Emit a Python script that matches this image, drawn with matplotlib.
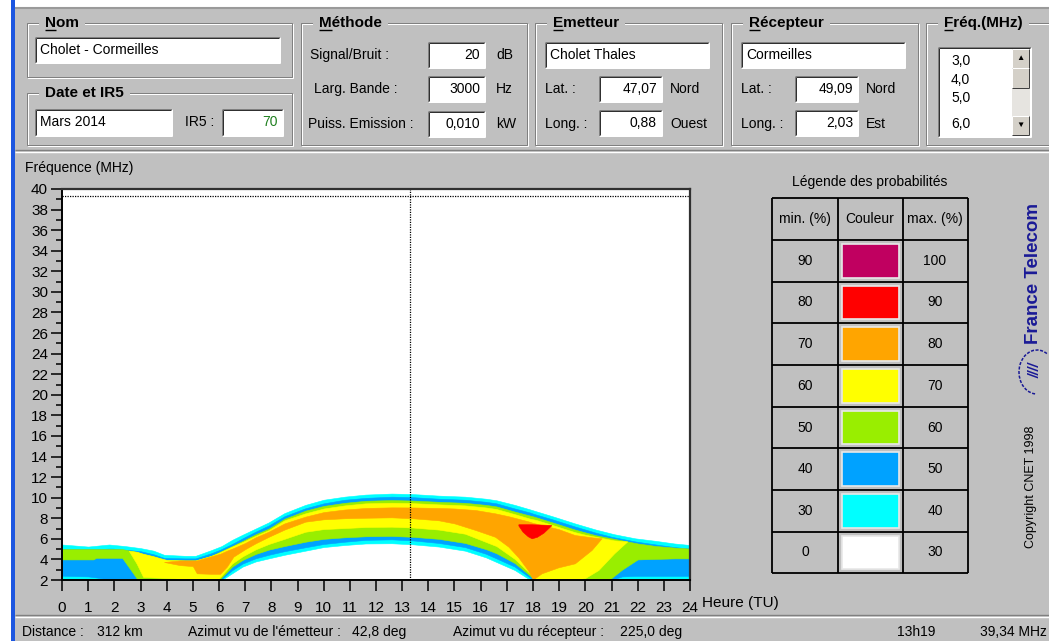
import matplotlib
matplotlib.use('Agg')
import matplotlib.pyplot as plt
from matplotlib.patches import Rectangle, Arc

plt.rcParams['font.family'] = ['Liberation Sans', 'DejaVu Sans']

# ---- data ----
hours = list(range(0, 25))
freq_ticks = list(range(2, 41, 2))

# area where probability >= level : time (h), lower / upper frequency (MHz)
t_p30 = [0, 1, 1.8, 2.4, 3.0, 3.5, 3.9, 4.7, 5.1, 5.7, 6.1, 6.5, 6.9, 7.4, 7.9, 8.5, 9.3, 10.0,
         10.8, 11.6, 12.6, 13.4, 14.4, 15.4, 16.2, 16.6, 17.3, 17.9, 18.8, 19.6, 20.4, 21.1, 21.9,
         22.7, 23.4, 24]
hi_p30 = [5.45, 5.25, 5.45, 5.3, 5.1, 4.85, 4.45, 4.35, 4.35, 4.9, 5.3, 5.9, 6.4, 7.0, 7.6, 8.5,
          9.3, 9.8, 10.1, 10.3, 10.4, 10.35, 10.2, 10.1, 9.9, 9.75, 9.3, 8.85, 8.15, 7.5, 6.9, 6.45,
          6.05, 5.8, 5.55, 5.4]
lo_p30 = [2, 2, 2, 2, 2, 2, 2, 2, 2, 2, 2, 2.65, 3.3, 3.8, 4.1, 4.45, 4.85, 5.2, 5.4, 5.55, 5.57,
          5.47, 5.25, 4.85, 4.2, 3.75, 2.97, 2.0, 2, 2, 2, 2, 2, 2, 2, 2]

t_p40 = [0, 1.0, 1.3, 1.8, 1.95, 2.4, 3.0, 3.5, 3.9, 4.7, 5.1, 5.7, 6.05, 6.5, 6.9, 7.4, 7.9, 8.5,
         9.3, 10.0, 10.8, 11.6, 12.6, 13.4, 14.4, 15.4, 16.2, 16.6, 17.3, 17.9, 18.0, 18.8, 19.6,
         20.4, 21.0, 21.4, 21.9, 22.7, 23.4, 24]
hi_p40 = [5.0, 5.0, 5.0, 5.05, 5.05, 4.95, 4.8, 4.5, 4.15, 4.1, 4.1, 4.6, 4.95, 5.5, 6.05, 6.7,
          7.3, 8.2, 8.97, 9.45, 9.8, 9.98, 10.1, 10.05, 9.9, 9.8, 9.6, 9.45, 8.95, 8.55, 8.45,
          7.85, 7.2, 6.6, 6.2, 6.0, 5.75, 5.45, 5.2, 5.05]
lo_p40 = [2.42, 2.35, 2.25, 2.05, 2.0, 2, 2, 2, 2, 2, 2, 2, 2.0, 2.95, 3.6, 4.11, 4.45, 4.8,
          5.18, 5.5, 5.72, 5.9, 5.95, 5.85, 5.6, 5.2, 4.55, 4.1, 3.3, 2.2, 2.0, 2, 2, 2, 2.0,
          2.35, 2.4, 2.4, 2.4, 2.4]

t_p50 = [0, 1.2, 1.3, 2.3, 2.9, 3.0, 3.5, 3.9, 4.7, 5.1, 5.7, 6.0, 6.5, 6.9, 7.4, 7.9, 8.5, 9.3,
         10.0, 10.8, 11.6, 12.6, 13.4, 14.4, 15.4, 16.2, 16.6, 17.3, 17.9, 18.05, 18.8, 19.6,
         20.4, 20.9, 21.4, 22.0, 22.7, 23.4, 24]
hi_p50 = [5.0, 5.0, 5.0, 5.0, 4.7, 4.6, 4.3, 3.95, 3.9, 3.9, 4.35, 4.7, 5.3, 5.8, 6.45, 7.0,
          7.95, 8.74, 9.2, 9.5, 9.7, 9.77, 9.72, 9.6, 9.5, 9.3, 9.15, 8.65, 8.25, 8.15, 7.55,
          6.9, 6.35, 6.1, 5.85, 5.55, 5.3, 5.15, 5.05]
lo_p50 = [4.0, 4.0, 4.15, 4.15, 2.0, 2, 2, 2, 2, 2, 2, 2.0, 3.3, 3.95, 4.53, 4.95, 5.3, 5.72,
          6.0, 6.15, 6.25, 6.28, 6.2, 6.0, 5.6, 5.0, 4.6, 3.65, 2.4, 2.0, 2, 2, 2, 2.0, 3.0, 4.0,
          4.05, 4.1, 4.1]

t_p60 = [2.55, 2.85, 3.1, 3.5, 4.0, 4.7, 5.0, 5.1, 5.7, 5.95, 6.5, 6.9, 7.4, 7.9, 8.5, 9.3, 10.0,
         10.8, 11.6, 12.6, 13.4, 14.4, 15.4, 16.2, 16.6, 17.3, 17.9, 18.1, 18.8, 19.6, 20.0,
         20.5, 21.1, 21.6]
hi_p60 = [4.85, 4.75, 4.55, 4.3, 3.95, 3.9, 3.9, 3.9, 4.35, 4.6, 5.25, 5.7, 6.3, 6.85, 7.8, 8.48,
          8.95, 9.25, 9.45, 9.51, 9.47, 9.35, 9.25, 9.05, 8.9, 8.4, 7.95, 7.85, 7.3, 6.65, 6.4,
          6.15, 5.85, 5.75]
lo_p60 = [4.85, 3.6, 2.3, 2.25, 2.2, 2.1, 2.0, 2.0, 2.0, 2.0, 3.6, 4.3, 4.98, 5.5, 6.0, 6.69,
          6.95, 7.05, 7.15, 7.18, 7.1, 6.9, 6.5, 5.7, 5.3, 4.05, 2.6, 2.0, 2.0, 2.0, 2.2, 2.97,
          4.59, 5.75]

t_p70 = [3.9, 4.5, 5.0, 5.15, 5.7, 6.04, 6.3, 6.55, 7.0, 7.4, 7.9, 8.5, 9.3, 10.0, 10.8, 11.6,
         12.6, 13.4, 14.4, 15.0, 15.8, 16.55, 17.06, 17.44, 17.82, 18.0, 18.33, 18.97, 19.6,
         20.24, 20.62]
hi_p70 = [3.75, 3.9, 3.9, 3.9, 4.3, 4.55, 4.85, 5.1, 5.6, 6.15, 6.7, 7.5, 8.16, 8.6, 8.85, 9.0,
          9.06, 9.05, 9.0, 8.95, 8.8, 8.48, 8.2, 7.95, 7.7, 7.55, 7.35, 6.95, 6.37, 6.15, 6.05]
lo_p70 = [3.75, 3.45, 3.35, 2.65, 2.6, 2.6, 3.3, 4.27, 5.0, 5.57, 6.2, 6.9, 7.67, 7.9, 8.0, 8.05,
          8.09, 8.0, 7.8, 7.5, 6.86, 6.2, 5.24, 4.2, 2.9, 2.05, 2.65, 3.23, 3.62, 4.92, 6.05]

t_p80 = [17.44, 17.6, 17.8, 17.95, 18.15, 18.4, 18.69]
hi_p80 = [7.42, 7.42, 7.42, 7.42, 7.4, 7.38, 7.35]
lo_p80 = [7.3, 6.7, 6.25, 6.05, 6.2, 6.6, 7.3]

prob_min = [90, 80, 70, 60, 50, 40, 30, 0]
prob_max = [100, 90, 80, 70, 60, 50, 40, 30]
prob_colors = ['#c00060', '#ff0000', '#ffa500', '#ffff00', '#99ee00', '#00a2ff', '#00ffff', '#ffffff']

cursor_hour = 13 + 19 / 60.0
cursor_freq = 39.34
freq_list = ['3,0', '4,0', '5,0', '6,0']

# ---- window ----
W, H = 1049, 641
GRAY = '#c0c0c0'
PX = 0.72  # one pixel in points
FS = 10

fig = plt.figure(figsize=(W / 100, H / 100), dpi=100, facecolor=GRAY)
bg = fig.add_axes([0, 0, 1, 1])
bg.set_xlim(0, W)
bg.set_ylim(H, 0)
bg.axis('off')
bg.set_facecolor(GRAY)
rend = fig.canvas.get_renderer()


def hline(x0, x1, y, c, lw=PX):
    bg.plot([x0, x1], [y, y], color=c, lw=lw, solid_capstyle='butt')


def vline(x, y0, y1, c, lw=PX):
    bg.plot([x, x], [y0, y1], color=c, lw=lw, solid_capstyle='butt')


def groupbox(x0, y0, x1, y1, title, underline=True):
    bg.add_patch(Rectangle((x0 + 1, y0 + 1), x1 - x0, y1 - y0, fill=False, ec='white', lw=PX))
    bg.add_patch(Rectangle((x0, y0), x1 - x0, y1 - y0, fill=False, ec='#808080', lw=PX))
    t = bg.text(x0 + 18, y0, title, fontsize=FS + 1, fontweight='bold', va='center', ha='left')
    bb = t.get_window_extent(rend)
    bg.add_patch(Rectangle((x0 + 12, y0 - 8), bb.width + 12, 16, fc=GRAY, ec='none', zorder=1.5))
    t.set_zorder(3)
    if underline:
        tmp = bg.text(0, 0, title[0], fontsize=FS + 1, fontweight='bold')
        w = tmp.get_window_extent(rend).width
        tmp.remove()
        hline(x0 + 18, x0 + 18 + w, y0 + 7, 'black', lw=1.0)


def sunken(x0, y0, x1, y1, fc='white'):
    bg.add_patch(Rectangle((x0, y0), x1 - x0, y1 - y0, fc=fc, ec='none'))
    hline(x0, x1, y0, '#808080')
    vline(x0, y0, y1, '#808080')
    hline(x0 + 1, x1 - 1, y0 + 1, '#303030')
    vline(x0 + 1, y0 + 1, y1 - 1, '#303030')
    hline(x0, x1, y1, 'white')
    vline(x1, y0, y1, 'white')


def textbox(x0, y0, x1, y1, text, align='left', color='black'):
    sunken(x0, y0, x1, y1)
    if align == 'left':
        bg.text(x0 + 5, (y0 + y1) / 2, text, fontsize=FS, va='center', ha='left', color=color)
    else:
        bg.text(x1 - 5, (y0 + y1) / 2, text, fontsize=FS, va='center', ha='right', color=color)


def label(x, y, text, **kw):
    bg.text(x, y, text, fontsize=FS, va='center', ha='left', **kw)


def raised(x0, y0, x1, y1):
    bg.add_patch(Rectangle((x0, y0), x1 - x0, y1 - y0, fc='#d4d0c8', ec='none'))
    hline(x0, x1, y0, 'white')
    vline(x0, y0, y1, 'white')
    hline(x0, x1, y1, '#404040')
    vline(x1, y0, y1, '#404040')


# left window edge and top
bg.add_patch(Rectangle((0, 0), 11, H, fc='white', ec='none'))
bg.add_patch(Rectangle((11, 0), 4, H, fc='#1c56e0', ec='none'))
bg.add_patch(Rectangle((15, 0), W, 7, fc='white', ec='none'))
hline(15, W, 7.5, '#9a9a9a', lw=1.5)

# Nom
groupbox(27, 23, 292, 77, 'Nom')
textbox(35, 37, 280, 63, 'Cholet - Cormeilles')
# Date et IR5
groupbox(27, 93, 292, 145, 'Date et IR5', underline=False)
textbox(35, 109, 172, 136, 'Mars 2014')
label(185, 122, 'IR5 :')
textbox(222, 109, 283, 136, '70', align='right', color='#208020')

# Methode
groupbox(301, 23, 527, 145, 'Méthode')
meth_rows = [('Signal/Bruit :', '20', 'dB', 310, 42),
             ('Larg. Bande :', '3000', 'Hz', 314, 76),
             ('Puiss. Emission :', '0,010', 'kW', 308, 111)]
for name, val, unit, lx, ty in meth_rows:
    label(lx, ty + 13, name)
    textbox(428, ty, 485, ty + 26, val, align='right')
    label(496, ty + 13, unit)

# Emetteur / Recepteur
for gx, title, name, lat, lat_dir, lon, lon_dir in [
        (535, 'Emetteur', 'Cholet Thales', '47,07', 'Nord', '0,88', 'Ouest'),
        (731, 'Récepteur', 'Cormeilles', '49,09', 'Nord', '2,03', 'Est')]:
    groupbox(gx, 23, gx + 187, 145, title)
    textbox(gx + 10, 42, gx + 174, 68, name)
    label(gx + 10, 89, 'Lat. :')
    textbox(gx + 64, 76, gx + 127, 102, lat, align='right')
    label(gx + 135, 89, lat_dir)
    label(gx + 10, 124, 'Long. :')
    textbox(gx + 64, 110, gx + 127, 136, lon, align='right')
    label(gx + 135, 124, lon_dir)

# Frequency list
groupbox(926, 23, 1065, 145, 'Fréq.(MHz)')
sunken(938, 47, 1031, 137)
for s, yy in zip(freq_list, [61, 80, 98, 124]):
    label(951, yy, s)
bg.add_patch(Rectangle((1012, 49), 18, 87, fc='#e6e4e0', ec='none'))
raised(1012, 49, 1029, 68)
raised(1012, 68, 1029, 88)
raised(1012, 116, 1029, 135)
bg.text(1020.5, 58.5, '▲', fontsize=6, ha='center', va='center')
bg.text(1020.5, 125.5, '▼', fontsize=6, ha='center', va='center')

# separators
hline(15, W, 150, '#808080', lw=1.0)
hline(15, W, 151.5, 'white', lw=1.0)
hline(15, W, 615, '#808080', lw=1.0)
hline(15, W, 616.5, 'white', lw=1.0)

# ---- chart ----
ax = fig.add_axes([62 / W, 1 - 580 / H, (690 - 62) / W, (580 - 189) / H])
ax.set_facecolor('white')
bands = [(t_p30, lo_p30, hi_p30, prob_colors[6]),
         (t_p40, lo_p40, hi_p40, prob_colors[5]),
         (t_p50, lo_p50, hi_p50, prob_colors[4]),
         (t_p60, lo_p60, hi_p60, prob_colors[3]),
         (t_p70, lo_p70, hi_p70, prob_colors[2]),
         (t_p80, lo_p80, hi_p80, prob_colors[1])]
for t, lo, hi, c in bands:
    ax.fill_between(t, lo, hi, color=c, lw=0.4, ec=c)

ax.axvline(cursor_hour, color='black', lw=0.9, ls=(0, (1, 1)))
ax.axhline(cursor_freq, color='black', lw=0.9, ls=(0, (1, 1)))

ax.set_xlim(0, 24)
ax.set_ylim(2, 40)
ax.set_xticks(hours)
ax.set_yticks(freq_ticks)
ax.set_yticks(range(3, 40, 2), minor=True)
ax.tick_params(axis='both', which='major', length=8, width=1.1, direction='out',
               labelsize=FS + 1)
ax.tick_params(axis='y', which='minor', length=4, width=1.1, direction='out')
ax.tick_params(axis='y', pad=2)
ax.tick_params(axis='x', pad=7)
for side in ['left', 'bottom']:
    ax.spines[side].set_linewidth(1.4)
    ax.spines[side].set_color('black')
for side in ['top', 'right']:
    ax.spines[side].set_linewidth(1.6)
    ax.spines[side].set_color('#303030')

bg.text(25, 168, 'Fréquence (MHz)', fontsize=FS, va='center', ha='left')
bg.text(702, 603, 'Heure (TU)', fontsize=FS + 1, va='center', ha='left')

# ---- legend table ----
bg.text(870, 182, 'Légende des probabilités', fontsize=FS, ha='center', va='center')
row_y = [198, 240, 282, 323, 365, 407, 448, 490, 532, 573]
col_x = [772, 838, 903, 968]
for yy in row_y:
    hline(col_x[0], col_x[-1], yy, 'black', lw=1.3)
for xx in col_x:
    vline(xx, row_y[0], row_y[-1], 'black', lw=1.3)
for txt, cx in zip(['min. (%)', 'Couleur', 'max. (%)'], [805, 870, 935]):
    bg.text(cx, (row_y[0] + row_y[1]) / 2, txt, fontsize=FS, ha='center', va='center')
for i in range(len(prob_min)):
    y0, y1 = row_y[i + 1], row_y[i + 2]
    bg.text(805, (y0 + y1) / 2, str(prob_min[i]), fontsize=FS, ha='center', va='center')
    bg.text(935, (y0 + y1) / 2, str(prob_max[i]), fontsize=FS, ha='center', va='center')
    bg.add_patch(Rectangle((842, y0 + 4), 57, y1 - y0 - 8, fc=prob_colors[i],
                           ec='#e8e8e8', lw=1.2))

# ---- logo / copyright ----
NAVY = '#1a1a96'
bg.text(1033, 273, 'France Telecom', rotation=90, fontsize=13.5, fontweight='bold',
        color=NAVY, ha='center', va='center')
bg.add_patch(Arc((1037, 372), 36, 44, theta1=95, theta2=300, color=NAVY, lw=1.1, ls=(0, (2, 1))))
bg.text(1036, 370, '////', rotation=90, fontsize=10, fontweight='bold', style='italic',
        color=NAVY, ha='center', va='center')
bg.text(1031, 487, 'Copyright CNET 1998', rotation=90, fontsize=FS - 1,
        ha='center', va='center')

# ---- status bar ----
for x, s in [(22, 'Distance :'), (97, '312 km'), (188, "Azimut vu de l'émetteur :"),
             (352, '42,8 deg'), (453, 'Azimut vu du récepteur :'), (620, '225,0 deg'),
             (897, '13h19'), (980, '39,34 MHz')]:
    bg.text(x, 632, s, fontsize=FS, va='center', ha='left')

fig.savefig('out.png', dpi=100, facecolor=GRAY)
